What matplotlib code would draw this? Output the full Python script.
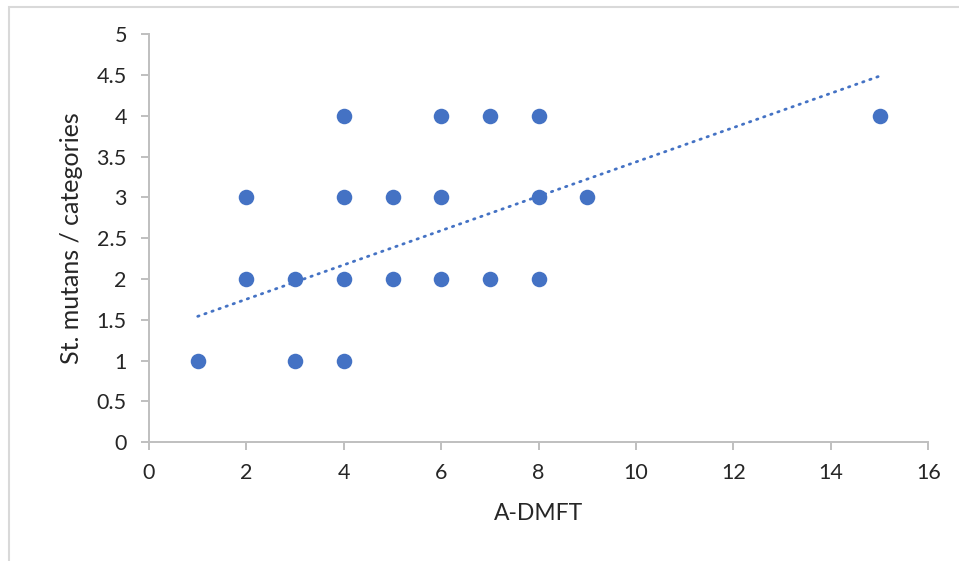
import matplotlib
matplotlib.use("Agg")
import matplotlib.pyplot as plt
import numpy as np
from matplotlib.patches import Rectangle

# data
a_dmft = [1, 2, 2, 3, 3, 4, 4, 4, 4, 5, 5, 6, 6, 6, 7, 7, 8, 8, 8, 9, 15]
st_mutans = [1, 2, 3, 2, 1, 1, 2, 3, 4, 2, 3, 2, 3, 4, 2, 4, 2, 3, 4, 3, 4]
# linear trendline as drawn in the picture
trend_slope = 0.2103
trend_intercept = 1.333

x_ticks = [0, 2, 4, 6, 8, 10, 12, 14, 16]
y_ticks = [0, 0.5, 1, 1.5, 2, 2.5, 3, 3.5, 4, 4.5, 5]
y_tick_labels = ["0", "0.5", "1", "1.5", "2", "2.5", "3", "3.5", "4", "4.5", "5"]

plt.rcParams["font.family"] = ["Lato", "DejaVu Sans"]
blue = "#4472C4"
grey = "#BFBFBF"
text_col = "#262626"

fig = plt.figure(figsize=(9.59, 5.61), dpi=100)
fig.patches.append(Rectangle((9 / 959, -0.1), 1.2, 1.1 - 7 / 561,
                             transform=fig.transFigure, fill=False,
                             edgecolor="#D9D9D9", linewidth=1.5))
ax = fig.add_axes([0.1554, 0.2116, 0.968 - 0.1554, 0.9389 - 0.2116])

ax.scatter(a_dmft, st_mutans, s=125, color=blue, zorder=3, linewidths=0)

xs = np.array([min(a_dmft), max(a_dmft)])
ax.plot(xs, trend_slope * xs + trend_intercept, color=blue, linewidth=2.0,
        linestyle=(0, (0.5, 2.2)), dash_capstyle="round", zorder=2)

ax.set_xlim(0, 16)
ax.set_ylim(0, 5)
ax.set_xticks(x_ticks)
ax.set_yticks(y_ticks)
ax.set_yticklabels(y_tick_labels)

for side in ["top", "right"]:
    ax.spines[side].set_visible(False)
for side in ["left", "bottom"]:
    ax.spines[side].set_color(grey)
    ax.spines[side].set_linewidth(1.4)

ax.tick_params(axis="both", direction="out", length=6, width=1.4, color=grey,
               labelsize=15.5, labelcolor=text_col)
ax.tick_params(axis="y", pad=10)
ax.tick_params(axis="x", pad=9)

ax.set_xlabel("A-DMFT", fontsize=16.5, color=text_col, labelpad=14)
ax.set_ylabel("St. mutans / categories", fontsize=18, color=text_col, labelpad=10)

fig.savefig("out.png", dpi=100)
